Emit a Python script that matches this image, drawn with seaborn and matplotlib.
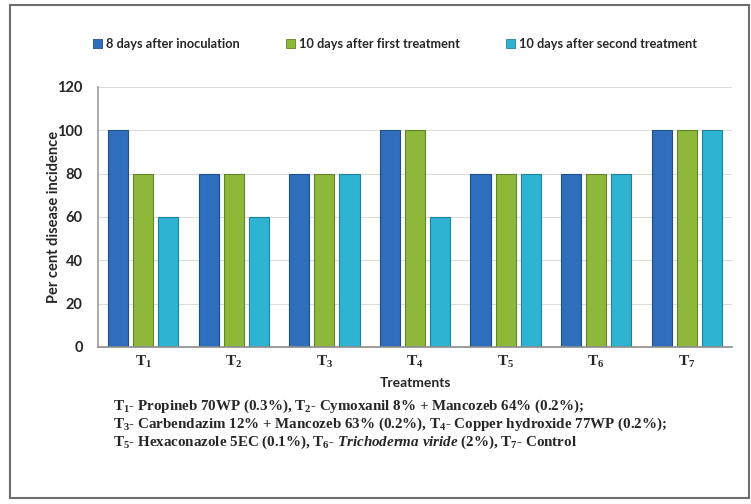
import matplotlib
matplotlib.use("Agg")
import matplotlib.pyplot as plt
from matplotlib.patches import Rectangle
import seaborn as sns
import pandas as pd

treatments = ["T1", "T2", "T3", "T4", "T5", "T6", "T7"]
tick_labels = [r"$\mathbf{T_{%d}}$" % i for i in range(1, 8)]
series_names = ["8 days after inoculation",
                "10 days after first treatment",
                "10 days after second treatment"]
after_inoculation = [100, 80, 80, 100, 80, 80, 100]
after_first = [80, 80, 80, 100, 80, 80, 100]
after_second = [60, 60, 80, 60, 80, 80, 100]
colors = ["#2F6EBC", "#8DB83A", "#2FB3D3"]
edges = ["#1F4F8A", "#62832A", "#1F819A"]

sns.set_theme(style="white")
plt.rcParams["font.family"] = ["Lato", "DejaVu Sans"]
plt.rcParams["mathtext.fontset"] = "custom"
plt.rcParams["mathtext.rm"] = "Liberation Serif:bold"
plt.rcParams["mathtext.bf"] = "Liberation Serif:bold"
plt.rcParams["mathtext.it"] = "Liberation Serif:bold:italic"

df = pd.DataFrame({
    "Treatment": treatments * 3,
    "value": after_inoculation + after_first + after_second,
    "series": [series_names[0]] * 7 + [series_names[1]] * 7 + [series_names[2]] * 7,
})

fig = plt.figure(figsize=(7.51, 5.04), dpi=100)
ax = fig.add_axes([98 / 751, 1 - 347 / 504, (732 - 98) / 751, (347 - 87) / 504])

sns.barplot(data=df, x="Treatment", y="value", hue="series",
            hue_order=series_names, palette=colors, width=0.83, gap=0.2,
            ax=ax, legend=False, saturation=1)

for container, ec in zip(ax.containers, edges):
    for bar in container:
        bar.set_edgecolor(ec)
        bar.set_linewidth(0.8)

ax.set_xlim(-0.5, 6.5)
ax.set_ylim(0, 120)
ax.set_yticks(range(0, 121, 20))
ax.set_yticklabels([str(v) for v in range(0, 121, 20)], fontsize=10.5, fontweight="bold")
ax.set_xticks(range(7))
ax.set_xticklabels(tick_labels, fontsize=11)
ax.tick_params(axis="x", length=0, pad=5)
ax.tick_params(axis="y", length=0, pad=11)
ax.yaxis.grid(True, color="#DCDCDC", linewidth=0.8)
ax.set_axisbelow(True)
for side in ["top", "right"]:
    ax.spines[side].set_visible(False)
ax.spines["left"].set_color("#A0A0A0")
ax.spines["bottom"].set_color("#8C8C8C")
ax.spines["bottom"].set_linewidth(1.2)

ax.set_xlabel("Treatments", fontsize=10, fontweight="bold")
ax.xaxis.set_label_coords(0.5, -(383 - 347) / 260)
ax.xaxis.label.set_va("center")
ax.set_ylabel("Per cent disease incidence", fontsize=10.5, fontweight="bold")
ax.yaxis.set_label_coords(-(98 - 54) / 634, 0.5)
ax.yaxis.label.set_va("center")

handles = [Rectangle((0, 0), 1, 1, facecolor=c, edgecolor=e, linewidth=0.6)
           for c, e in zip(colors, edges)]
fig.legend(handles, series_names, loc="center", bbox_to_anchor=(0.526, 1 - 44 / 504),
           ncol=3, frameon=False, handlelength=0.7, handleheight=0.7,
           handletextpad=0.35, columnspacing=3.6,
           prop={"family": "Lato", "weight": "bold", "size": 9.2})

notes = [
    r"T$_1$- Propineb 70WP (0.3%), T$_2$- Cymoxanil 8% + Mancozeb 64% (0.2%);",
    r"T$_3$- Carbendazim 12% + Mancozeb 63% (0.2%), T$_4$- Copper hydroxide 77WP (0.2%);",
    r"T$_5$- Hexaconazole 5EC (0.1%), T$_6$- $Trichoderma\ viride$ (2%), T$_7$- Control",
]
for i, line in enumerate(notes):
    fig.text(113 / 751, 1 - (406 + i * 18) / 504, line, ha="left", va="center",
             family="Liberation Serif", fontweight="bold", fontsize=10.8)

fig.patches.append(Rectangle((10 / 751, 1 - 498 / 504), 739 / 751, 493 / 504,
                             transform=fig.transFigure, fill=False,
                             edgecolor="#6E6E6E", linewidth=1.5))

fig.savefig("out.png", dpi=100)
